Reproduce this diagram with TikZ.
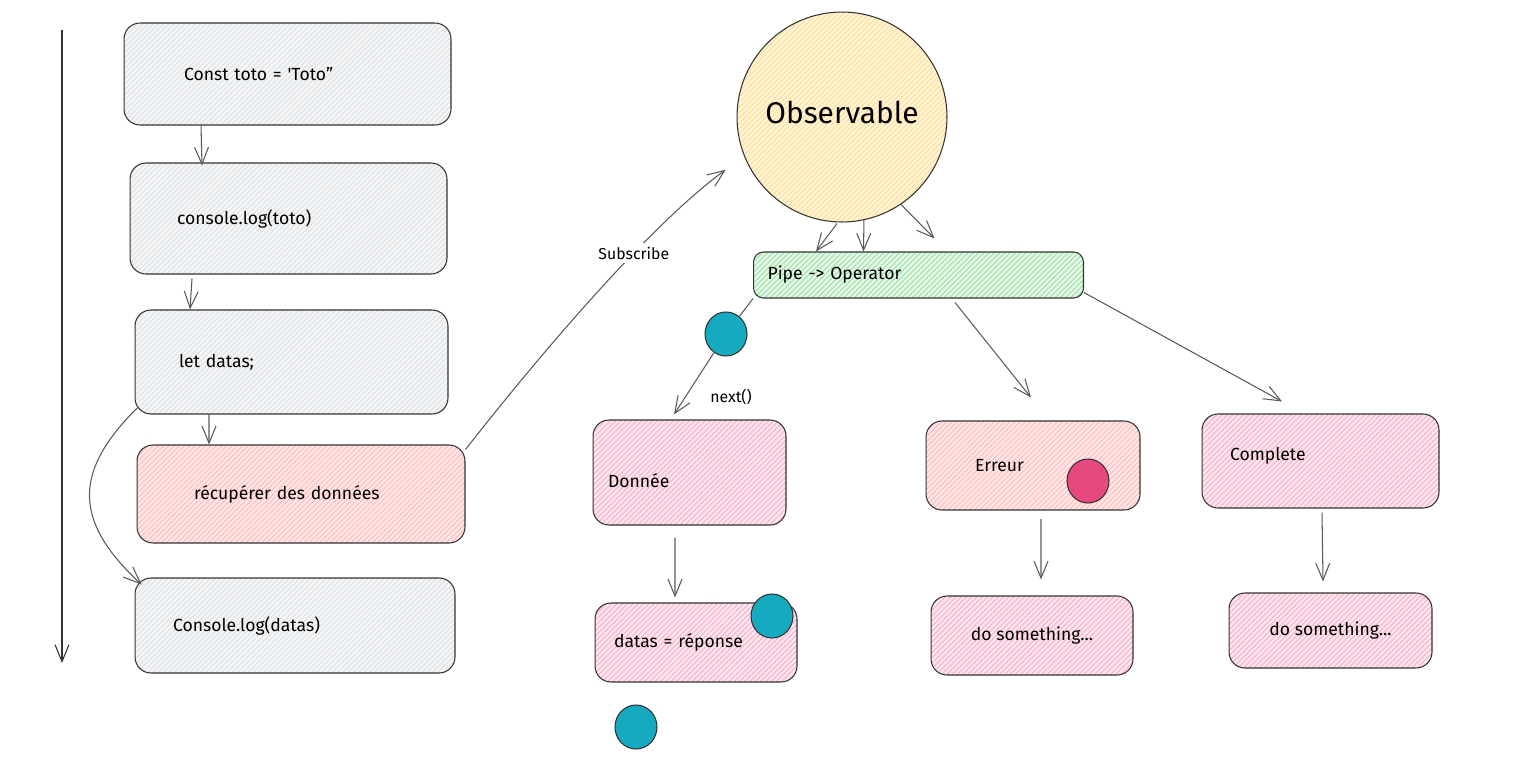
\documentclass[tikz,border=0pt]{standalone}
\usepackage{fontspec}
\setmainfont{Fira Sans}
\usetikzlibrary{positioning,arrows.meta,patterns,shapes.geometric}
\definecolor{greyfill}{HTML}{F4F5F6}
\definecolor{greyhatch}{HTML}{DADDE0}
\definecolor{redfill}{HTML}{FFE6E6}
\definecolor{redhatch}{HTML}{FFB3B3}
\definecolor{pinkfill}{HTML}{FDE4EE}
\definecolor{pinkhatch}{HTML}{F5A6C4}
\definecolor{yellowfill}{HTML}{FFF4D6}
\definecolor{yellowhatch}{HTML}{FFD98A}
\definecolor{greenfill}{HTML}{E3F8E6}
\definecolor{greenhatch}{HTML}{8FDB9C}
\definecolor{tealdot}{HTML}{15AABF}
\definecolor{rasdot}{HTML}{E64980}
\tikzset{main box/.style={draw=black!80,line width=0.6pt,rounded corners=0.32cm,align=left,inner ysep=0pt,font=\fontsize{10}{12}\selectfont},
  grey box/.style={main box,preaction={fill=greyfill},pattern=north east lines,pattern color=greyhatch},
  red box/.style={main box,preaction={fill=redfill},pattern=north east lines,pattern color=redhatch},
  pink box/.style={main box,preaction={fill=pinkfill},pattern=north east lines,pattern color=pinkhatch},
  low text/.style={text height=0.6cm},
  mid text/.style={},
  high text/.style={text depth=0.3cm},
  dot/.style={ellipse,draw=black!80,line width=0.6pt,minimum width=0.84cm,minimum height=0.88cm,inner sep=0pt},
  link/.style={draw=black!65,line width=0.6pt},
  arr/.style={link,-{Straight Barb[length=3.4mm,width=2.8mm]}},
  label/.style={font=\fontsize{9}{11}\selectfont,inner sep=2pt}}

\begin{document}
\begin{tikzpicture}[x=0.02cm,y=-0.02cm]
\useasboundingbox (0,0) rectangle (1523,778);

% timeline
\coordinate (t0) at (62,30);
\coordinate (t1) at (62,663);
\draw[arr,draw=black!80] (t0) -- (t1);

% code steps
\foreach \n/\x/\y/\w/\h/\p/\tw/\s/\t in {
    b1/287.5/74/6.54/2.04/1.2/4.14/grey/{Const toto = \textquotesingle Toto"},
    b2/288.5/218.5/6.34/2.22/0.94/4.46/grey/{console.log(toto)},
    b3/291.5/362/6.26/2.08/0.88/4.5/grey/{let datas;},
    b4/301/494/6.56/1.96/1.14/4.28/red/{récupérer des données},
    b5/295/625.5/6.4/1.9/0.76/4.88/grey/{Console.log(datas)}}{
    \node[\s\space box,minimum width=\w cm,minimum height=\h cm,inner xsep=\p cm,text width=\tw cm] (\n) at (\x,\y) {\t};
}

% observable and pipe
\node[circle,draw=black!80,line width=0.6pt,preaction={fill=yellowfill},pattern=north east lines,pattern color=yellowhatch,
      minimum size=4.2cm,text depth=0.2cm,font=\fontsize{17}{20}\selectfont] (ob) at (842,117) {Observable};
\node[main box,rounded corners=0.2cm,preaction={fill=greenfill},pattern=north east lines,pattern color=greenhatch,
      minimum width=6.6cm,minimum height=0.92cm,inner xsep=0.28cm,text width=6.04cm] (pipe) at (918.5,275) {Pipe -> Operator};

% results
\foreach \n/\x/\y/\w/\h/\p/\tw/\s/\o/\t in {
    don/689.5/472.5/3.86/2.1/0.3/3.26/pink/low/{Donnée},
    datas/696/642.5/4.04/1.58/0.38/3.28/pink/mid/{datas = réponse},
    err/1033/465.5/4.28/1.78/0.98/2.32/red/mid/{Erreur},
    comp/1320.5/461/4.74/1.88/0.56/3.62/pink/high/{Complete}}{
    \node[\s\space box,\o\space text,minimum width=\w cm,minimum height=\h cm,inner xsep=\p cm,text width=\tw cm] (\n) at (\x,\y) {\t};
}
\node[pink box,align=center,minimum width=4.04cm,minimum height=1.58cm] (do2) at (1032,635.5) {do something...};
\node[pink box,align=center,minimum width=4.06cm,minimum height=1.5cm] (do3) at (1330.5,630.5) {do something...};

% dots
\node[dot,fill=tealdot] (c1) at (726,334) {};
\node[dot,fill=tealdot] (c2) at (772,616) {};
\node[dot,fill=tealdot] (c3) at (636,727) {};
\node[dot,fill=rasdot] (c4) at (1088,481) {};

% flow on the left
\draw[arr] ([xshift=-1.73cm]b1.south) -- ([xshift=-1.73cm,yshift=-0.06cm]b2.north);
\draw[arr] ([xshift=-1.93cm,yshift=-0.08cm]b2.south) -- ([xshift=-2.03cm]b3.north);
\draw[arr] ([xshift=-1.65cm]b3.south) -- ([xshift=-1.84cm]b4.north);
\draw[arr] ([xshift=0.06cm,yshift=0.14cm]b3.south west) .. controls +(-63,63) and +(-70,-65) .. ([xshift=0.14cm,yshift=-0.14cm]b5.north west);
\draw[arr] ([yshift=-0.1cm]b4.north east) .. controls +(61,-78) and +(-81,59) .. node[pos=0.66,fill=white,label] (lsub) {Subscribe} ([xshift=-0.5cm]ob.210);

% observable to pipe
\draw[arr] ([xshift=-0.1cm,yshift=-0.02cm]ob.south) -- ([xshift=-2.05cm]pipe.north);
\draw[arr] (ob.-78) -- ([xshift=-1.1cm]pipe.north);
\draw[arr] (ob.-56) -- ([xshift=0.32cm,yshift=0.26cm]pipe.north);

% pipe to results
\draw[link] (pipe.south west) -- (c1);
\draw[arr] (c1) -- ([xshift=-0.31cm,yshift=0.1cm]don.north);
\node[label] (lnext) at (731,397) {next()};
\draw[arr] ([xshift=0.73cm,yshift=-0.08cm]pipe.south) -- ([xshift=-0.04cm,yshift=0.46cm]err.north);
\draw[arr] ([yshift=0.12cm]pipe.south east) -- ([xshift=-0.77cm,yshift=0.24cm]comp.north);
\draw[arr] ([xshift=-0.29cm,yshift=-0.24cm]don.south) -- ([xshift=-0.42cm,yshift=0.1cm]datas.north);
\draw[arr] ([xshift=0.16cm,yshift=-0.17cm]err.south) -- ([xshift=0.18cm,yshift=0.32cm]do2.north);
\draw[arr] ([xshift=0.03cm,yshift=-0.08cm]comp.south) -- ([xshift=-0.15cm,yshift=0.22cm]do3.north);
\end{tikzpicture}
\end{document}
